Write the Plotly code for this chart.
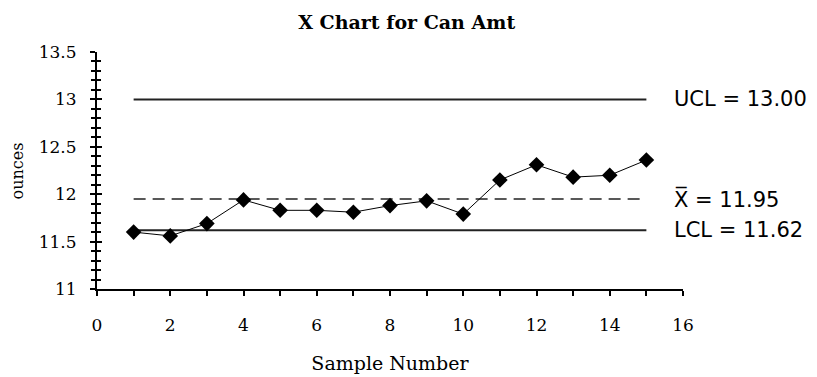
import plotly.graph_objects as go

samples = list(range(1, 16))
means = [11.60, 11.56, 11.69, 11.94, 11.83, 11.83, 11.81, 11.88, 11.93, 11.79,
         12.15, 12.31, 12.18, 12.20, 12.36]
ucl = 13.00
center = 11.95
lcl = 11.62
limit_labels = ["UCL = 13.00", "X\u0305 = 11.95", "LCL = 11.62"]

title_text = "X Chart for Can Amt"
x_title = "Sample Number"
y_title = "ounces"

serif = "DejaVu Serif, Liberation Serif, serif"
sans = "DejaVu Sans, Liberation Sans, sans-serif"

fig = go.Figure()

x0, x1 = samples[0], samples[-1]
fig.add_trace(go.Scatter(x=[x0, x1], y=[ucl, ucl], mode="lines",
                         line=dict(color="#222", width=2), showlegend=False))
fig.add_trace(go.Scatter(x=[x0, x1], y=[lcl, lcl], mode="lines",
                         line=dict(color="#222", width=2), showlegend=False))
fig.add_trace(go.Scatter(x=[x0, x1], y=[center, center], mode="lines",
                         line=dict(color="#222", width=1.5, dash="12px,7px"), showlegend=False))
fig.add_trace(go.Scatter(x=samples, y=means, mode="lines+markers",
                         line=dict(color="black", width=1),
                         marker=dict(symbol="diamond", size=12, color="black"),
                         showlegend=False))

for val, txt in zip([ucl, center, lcl], limit_labels):
    fig.add_annotation(x=15.70, y=val, xref="x", yref="y", text=txt,
                       showarrow=False, xanchor="left", yanchor="middle",
                       font=dict(family=sans, size=21, color="black"))

fig.add_annotation(x=-0.135, y=0.5, xref="paper", yref="paper", text=y_title,
                   showarrow=False, textangle=-90, xanchor="center", yanchor="middle",
                   font=dict(family=serif, size=16, color="black"))

fig.update_layout(
    width=817, height=377,
    margin=dict(l=89, r=142, t=44, b=96),
    paper_bgcolor="white", plot_bgcolor="white",
    title=dict(text="<b>" + title_text + "</b>", x=0.488, xanchor="center", y=0.962, yanchor="middle",
               font=dict(family=serif, size=19, color="black")),
    xaxis=dict(range=[0, 16], tickvals=list(range(0, 17, 2)), ticks="outside", ticklen=5,
               tickcolor="black", tickwidth=1.5,
               minor=dict(tickvals=list(range(1, 17, 2)), ticks="outside", ticklen=5, tickcolor="black"),
               showline=True, linecolor="black", linewidth=2, showgrid=False, zeroline=False,
               ticklabelstandoff=15,
               tickfont=dict(family=serif, size=17, color="black"),
               title=dict(text=x_title, standoff=22, font=dict(family=serif, size=19, color="black"))),
    yaxis=dict(range=[11, 13.5], tickvals=[11, 11.5, 12, 12.5, 13, 13.5], ticktext=["11", "11.5", "12", "12.5", "13", "13.5"],
               ticks="outside", ticklen=5, tickcolor="black", tickwidth=1.5,
               minor=dict(dtick=0.1, ticks="outside", ticklen=4, tickcolor="black"),
               showline=True, linecolor="black", linewidth=2, showgrid=False, zeroline=False,
               ticklabelstandoff=10,
               tickfont=dict(family=serif, size=17, color="black")),
    yaxis2=dict(range=[11, 13.5], overlaying="y", side="left", anchor="x",
                tickvals=[11, 11.5, 12, 12.5, 13, 13.5], ticks="inside", ticklen=5, tickcolor="black",
                tickwidth=1.5, showticklabels=False,
                minor=dict(dtick=0.1, ticks="inside", ticklen=4, tickcolor="black"),
                showgrid=False, zeroline=False, showline=False),
)
fig.add_trace(go.Scatter(x=[None], y=[None], yaxis="y2", showlegend=False, hoverinfo="skip"))

fig.write_html("out.html")
